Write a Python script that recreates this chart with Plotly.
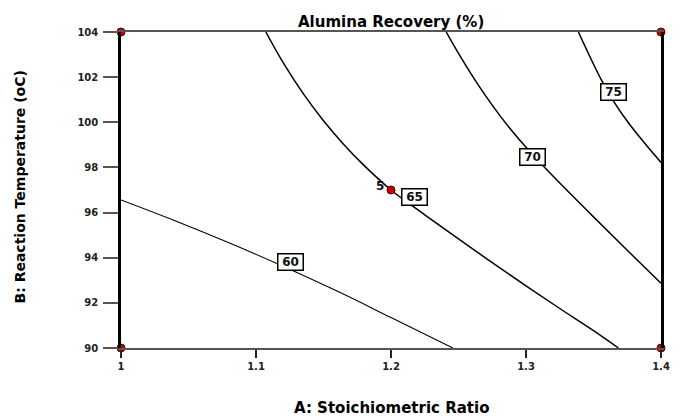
import plotly.graph_objects as go

# ---- data ----
x_tick_vals = [1.0, 1.1, 1.2, 1.3, 1.4]
x_tick_text = ["1", "1.1", "1.2", "1.3", "1.4"]
y_tick_vals = [90, 92, 94, 96, 98, 100, 102, 104]
y_tick_text = ["90", "92", "94", "96", "98", "100", "102", "104"]

contour_levels = ["60", "65", "70", "75"]

c60_x = [1.0, 1.04, 1.08, 1.12, 1.16, 1.20, 1.2458]
c60_y = [96.56, 95.64, 94.66, 93.62, 92.52, 91.35, 90.0]

c65_x = [1.1073, 1.12, 1.135, 1.15, 1.165, 1.18, 1.2, 1.225, 1.25, 1.275,
         1.30, 1.325, 1.35, 1.3685]
c65_y = [104.0, 102.65, 101.27, 100.07, 99.02, 98.09, 97.0, 95.9, 94.83, 93.78,
         92.75, 91.75, 90.77, 90.0]

c70_x = [1.2409, 1.25, 1.26, 1.27, 1.28, 1.29, 1.30, 1.31, 1.325, 1.35, 1.375, 1.4]
c70_y = [104.0, 103.05, 102.08, 101.18, 100.35, 99.59, 98.89, 98.24, 97.31,
         95.81, 94.33, 92.87]

c75_x = [1.3388, 1.347, 1.3563, 1.3648, 1.3757, 1.3878, 1.4]
c75_y = [104.0, 102.95, 101.82, 100.94, 99.99, 99.08, 98.22]

label_x = [1.1255, 1.2173, 1.3051, 1.3650]
label_y = [93.81, 96.67, 98.48, 101.36]

design_x = [1.0, 1.0, 1.4, 1.4, 1.2]
design_y = [90, 104, 90, 104, 97]
design_count_text = "5"
design_count_x = 1.1917
design_count_y = 97.18

title_text = "Alumina Recovery (%)"
x_title = "A: Stoichiometric Ratio"
y_title = "B: Reaction Temperature (oC)"

FONT = "DejaVu Sans"

fig = go.Figure()

line_sets = [(c60_x, c60_y, 1.1), (c65_x, c65_y, 1.5), (c70_x, c70_y, 1.5), (c75_x, c75_y, 1.5)]
for xs, ys, w in line_sets:
    fig.add_trace(go.Scatter(x=xs, y=ys, mode="lines",
                             line=dict(color="black", width=w, shape="spline", smoothing=1.0),
                             hoverinfo="skip", showlegend=False))

fig.add_trace(go.Scatter(x=design_x, y=design_y, mode="markers",
                         marker=dict(color="#c80000", size=8, line=dict(color="#5a0000", width=1)),
                         cliponaxis=False, showlegend=False, hoverinfo="skip"))

annotations = []
for t, lx, ly in zip(contour_levels, label_x, label_y):
    annotations.append(dict(x=lx, y=ly, xref="x", yref="y", text=t, showarrow=False,
                            font=dict(family=FONT, size=12, color="#111111", weight="bold"),
                            bgcolor="white", bordercolor="black", borderwidth=1.5,
                            borderpad=1, width=22, height=13))

annotations.append(dict(x=design_count_x, y=design_count_y, xref="x", yref="y",
                        text=design_count_text, showarrow=False,
                        font=dict(family=FONT, size=12, color="#111111", weight="bold")))

annotations.append(dict(x=0.5, y=1.0316, xref="paper", yref="paper", text=title_text,
                        showarrow=False, xanchor="center", yanchor="middle",
                        font=dict(family=FONT, size=15, color="black", weight="bold")))
annotations.append(dict(x=0.5, y=-0.1886, xref="paper", yref="paper", text=x_title,
                        showarrow=False, xanchor="center", yanchor="middle",
                        font=dict(family=FONT, size=15, color="black", weight="bold")))
annotations.append(dict(x=-0.187, y=0.508, xref="paper", yref="paper", text=y_title,
                        showarrow=False, xanchor="center", yanchor="middle", textangle=-90,
                        font=dict(family=FONT, size=14, color="black", weight="bold")))

fig.update_layout(
    width=680, height=419,
    margin=dict(l=121, r=10, t=32, b=71),
    paper_bgcolor="white", plot_bgcolor="white",
    annotations=annotations,
    showlegend=False,
)

fig.update_xaxes(range=[1.0, 1.4], tickvals=x_tick_vals, ticktext=x_tick_text,
                 showgrid=False, zeroline=False,
                 showline=True, linecolor="#555555", linewidth=1.5, mirror=True,
                 ticks="outside", ticklen=8, tickwidth=2, tickcolor="#222222",
                 tickfont=dict(family=FONT, size=10, color="#222222", weight="bold"))
fig.update_yaxes(range=[90, 104], tickvals=y_tick_vals, ticktext=y_tick_text,
                 showgrid=False, zeroline=False,
                 showline=True, linecolor="black", linewidth=2.5, mirror=True,
                 ticks="outside", ticklen=15, tickwidth=1.5, tickcolor="#555555",
                 ticklabelstandoff=3,
                 tickfont=dict(family=FONT, size=10, color="#222222", weight="bold"))

fig.write_html("out.html")
